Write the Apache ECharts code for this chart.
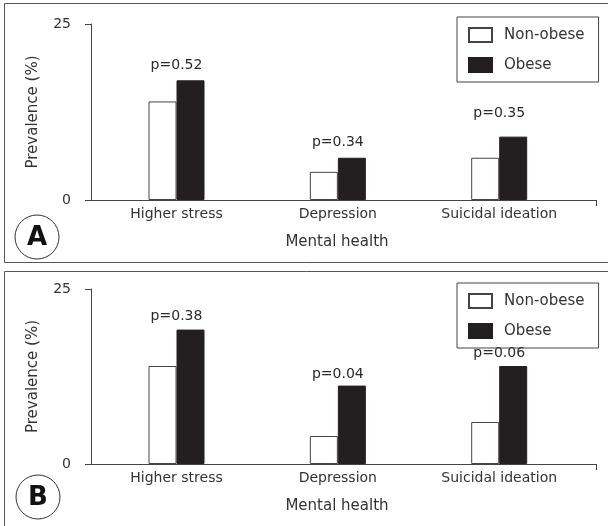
<!DOCTYPE html>
<html>
<head>
<meta charset="utf-8">
<script src="https://cdn.jsdelivr.net/npm/echarts@6/dist/echarts.min.js"></script>
<style>
  html, body { margin: 0; padding: 0; background: #fff; }
  #main { width: 608px; height: 526px; }
</style>
</head>
<body>
<div id="main"></div>
<script>
// 类目
const categories = ["Higher stress", "Depression", "Suicidal ideation"];
const seriesNames = ["Non-obese", "Obese"];

// panel A
const nonObeseA = [14, 4, 6];
const obeseA = [17, 6, 9];
const pLabelsA = ["p=0.52", "p=0.34", "p=0.35"];
const pLabelYA = [19.2, 8.4, 12.5];

// panel B
const nonObeseB = [14, 4, 6];
const obeseB = [19.2, 11.2, 14];
const pLabelsB = ["p=0.38", "p=0.04", "p=0.06"];
const pLabelYB = [21.2, 13.0, 16.0];

const yTicks = [0, 25];

const FONT = "DejaVu Sans";
const TEXT = "#333";
const LINE = "#444";

const chart = echarts.init(document.getElementById("main"));

function xAxisFor(gridIndex) {
  return {
    type: "value",
    gridIndex: gridIndex,
    min: -0.53,
    max: 2.6,
    axisLine: { show: true, onZero: false, lineStyle: { color: LINE, width: 1 } },
    axisTick: { show: true, customValues: [2.6], length: 6, lineStyle: { color: LINE } },
    axisLabel: {
      customValues: [0, 1, 2],
      formatter: v => categories[Math.round(v)],
      color: TEXT, fontSize: 14, fontFamily: FONT, margin: 7
    },
    splitLine: { show: false },
    name: "Mental health",
    nameLocation: "middle",
    nameGap: 35,
    nameTextStyle: { color: TEXT, fontSize: 15, fontFamily: FONT, padding: [0, 13, 0, 0] }
  };
}

function yAxisFor(gridIndex) {
  return {
    type: "value",
    gridIndex: gridIndex,
    min: yTicks[0],
    max: yTicks[1],
    interval: 25,
    axisLine: { show: true, onZero: false, lineStyle: { color: LINE, width: 1 } },
    axisTick: { show: true, length: 6, lineStyle: { color: LINE } },
    axisLabel: { color: TEXT, fontSize: 14, fontFamily: FONT, margin: 20 },
    splitLine: { show: false },
    name: "Prevalence (%)",
    nameLocation: "middle",
    nameGap: 50,
    nameTextStyle: { color: TEXT, fontSize: 15, fontFamily: FONT }
  };
}

function barSeries(name, values, idx, isObese) {
  return {
    name: name,
    type: "bar",
    xAxisIndex: idx,
    yAxisIndex: idx,
    barWidth: 28,
    barGap: "0%",
    data: values.map((v, i) => [i, v]),
    itemStyle: isObese
      ? { color: "#231f20", borderColor: "#231f20", borderWidth: 1 }
      : { color: "#ffffff", borderColor: LINE, borderWidth: 1 },
    emphasis: { disabled: true }
  };
}

// p 值标注
function pSeries(labels, ys, idx) {
  return {
    type: "scatter",
    xAxisIndex: idx,
    yAxisIndex: idx,
    symbolSize: 0,
    itemStyle: { color: "#333", opacity: 1 },
    data: ys.map((y, i) => [i, y]),
    label: {
      show: true,
      position: "top",
      distance: -8,
      formatter: p => labels[p.dataIndex],
      color: "#2a2a2a", fontSize: 14, fontFamily: FONT,
      textBorderWidth: 0
    },
    emphasis: { disabled: true },
    silent: true
  };
}

function legendFor(top) {
  return {
    data: seriesNames,
    orient: "vertical",
    left: 457,
    top: top,
    icon: "rect",
    itemWidth: 23,
    itemHeight: 14,
    itemGap: 14,
    padding: [10, 14, 9, 11],
    borderColor: LINE,
    borderWidth: 1,
    selectedMode: false,
    textStyle: { color: TEXT, fontSize: 15, fontFamily: FONT, padding: [0, 0, 0, 7] }
  };
}

function letterBadge(cx, cy, letter) {
  return [
    { type: "circle", shape: { cx: cx, cy: cy, r: 22 }, style: { fill: "#fff", stroke: "#333", lineWidth: 1 } },
    {
      type: "text", x: cx, y: cy + 1,
      style: { text: letter, fill: "#111", font: "bold 26px " + FONT, align: "center", verticalAlign: "middle" }
    }
  ];
}

const option = {
  backgroundColor: "#fff",
  animation: false,
  grid: [
    { left: 91, top: 24, width: 505, height: 176 },
    { left: 91, top: 289, width: 505, height: 175 }
  ],
  xAxis: [xAxisFor(0), xAxisFor(1)],
  yAxis: [yAxisFor(0), yAxisFor(1)],
  legend: [legendFor(17), legendFor(283)],
  series: [
    barSeries(seriesNames[0], nonObeseA, 0, false),
    barSeries(seriesNames[1], obeseA, 0, true),
    pSeries(pLabelsA, pLabelYA, 0),
    barSeries(seriesNames[0], nonObeseB, 1, false),
    barSeries(seriesNames[1], obeseB, 1, true),
    pSeries(pLabelsB, pLabelYB, 1)
  ],
  graphic: [
    // 面板边框
    { type: "rect", shape: { x: 4.5, y: 3.5, width: 700, height: 259 }, style: { fill: null, stroke: "#555", lineWidth: 1 }, z: -1 },
    { type: "rect", shape: { x: 4.5, y: 271.5, width: 700, height: 300 }, style: { fill: null, stroke: "#555", lineWidth: 1 }, z: -1 },
    ...letterBadge(37, 237, "A"),
    ...letterBadge(38, 497, "B")
  ]
};

chart.setOption(option);
</script>
</body>
</html>
